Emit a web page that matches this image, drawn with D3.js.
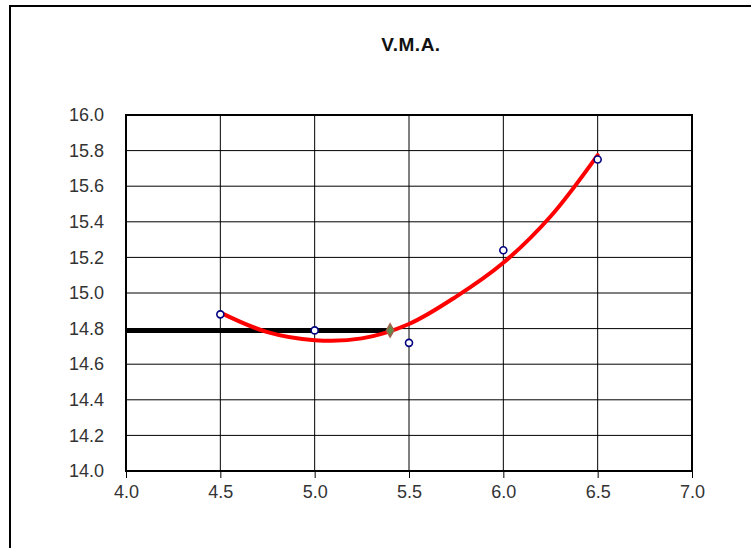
<!DOCTYPE html>
<html><head><meta charset="utf-8">
<script src="https://cdn.jsdelivr.net/npm/d3@7"></script>
<style>body{margin:0;background:#fff;} svg{display:block;}</style>
</head><body>
<script>
const title = "V.M.A.";
const xTicks = [4.0, 4.5, 5.0, 5.5, 6.0, 6.5, 7.0];
const yTicks = [14.0, 14.2, 14.4, 14.6, 14.8, 15.0, 15.2, 15.4, 15.6, 15.8, 16.0];
const pointX = [4.5, 5.0, 5.5, 6.0, 6.5];
const pointY = [14.88, 14.79, 14.72, 15.24, 15.75];
const curveX = [4.5, 4.75, 5.0, 5.25, 5.5, 5.75, 6.0, 6.25, 6.5];
const curveY = [14.89, 14.78, 14.735, 14.745, 14.826, 14.98, 15.17, 15.43, 15.775];
const targetX = [4.0, 5.4];
const targetY = [14.79, 14.79];
const diamond = {x: 5.4, y: 14.79};

const W = 751, H = 548;
const svg = d3.select("body").append("svg").attr("width", W).attr("height", H);

// outer chart border (top & left visible)
svg.append("rect").attr("x", 10).attr("y", 6).attr("width", 760).attr("height", 560)
  .attr("fill", "none").attr("stroke", "#000").attr("stroke-width", 2);

const x = d3.scaleLinear().domain([4, 7]).range([126, 692]);
const y = d3.scaleLinear().domain([14, 16]).range([471, 115]);

// grid
const g = svg.append("g");
g.selectAll(".vg").data(xTicks).join("line")
  .attr("x1", d => x(d)).attr("x2", d => x(d)).attr("y1", y(14)).attr("y2", y(16))
  .attr("stroke", "#000").attr("stroke-width", 1);
g.selectAll(".hg").data(yTicks).join("line")
  .attr("x1", x(4)).attr("x2", x(7)).attr("y1", d => y(d)).attr("y2", d => y(d))
  .attr("stroke", "#000").attr("stroke-width", 1);

// axes
const xAxis = d3.axisBottom(x).tickValues(xTicks).tickFormat(d3.format(".1f")).tickSize(7).tickPadding(7);
const yAxis = d3.axisLeft(y).tickValues(yTicks).tickFormat(d3.format(".1f")).tickSize(7).tickPadding(15);
const gx = svg.append("g").attr("transform", `translate(0,${y(14)})`).call(xAxis);
const gy = svg.append("g").attr("transform", `translate(${x(4)},0)`).call(yAxis);
[gx, gy].forEach(a => {
  a.select(".domain").remove();
  a.selectAll(".tick line").attr("stroke", "#000").attr("stroke-width", 1);
  a.selectAll(".tick text").attr("fill", "#333").style("font-family", "Arial, 'Liberation Sans', sans-serif").style("font-size", "18px");
});
gy.selectAll(".tick line").attr("x1", -7);

// plot border
svg.append("rect").attr("x", x(4)).attr("y", y(16)).attr("width", x(7) - x(4)).attr("height", y(14) - y(16))
  .attr("fill", "none").attr("stroke", "#000").attr("stroke-width", 2);

// title
svg.append("text").attr("x", 411).attr("y", 51).attr("text-anchor", "middle")
  .style("font-family", "Arial, 'Liberation Sans', sans-serif").style("font-size", "19px").style("font-weight", "bold")
  .style("letter-spacing", "0.5px").attr("fill", "#111")
  .text(title);

// black target line
const line = d3.line().x(d => x(d[0])).y(d => y(d[1]));
svg.append("path").datum(targetX.map((v, i) => [v, targetY[i]])).attr("d", line)
  .attr("fill", "none").attr("stroke", "#000").attr("stroke-width", 5);

// red fitted curve
svg.append("path").datum(curveX.map((v, i) => [v, curveY[i]]))
  .attr("d", d3.line().x(d => x(d[0])).y(d => y(d[1])).curve(d3.curveCatmullRom))
  .attr("fill", "none").attr("stroke", "#ff0000").attr("stroke-width", 4).attr("stroke-linecap", "round");

// data points
svg.selectAll(".pt").data(pointX.map((v, i) => [v, pointY[i]])).join("circle")
  .attr("cx", d => x(d[0])).attr("cy", d => y(d[1])).attr("r", 3.5)
  .attr("fill", "#fff").attr("stroke", "#000080").attr("stroke-width", 1.6);

// diamond marker
svg.append("path").attr("d", d3.symbol(d3.symbolDiamond, 50)())
  .attr("transform", `translate(${x(diamond.x)},${y(diamond.y)})`)
  .attr("fill", "#5f8a4a").attr("stroke", "#a0604a").attr("stroke-width", 1.5);
</script>
</body></html>
